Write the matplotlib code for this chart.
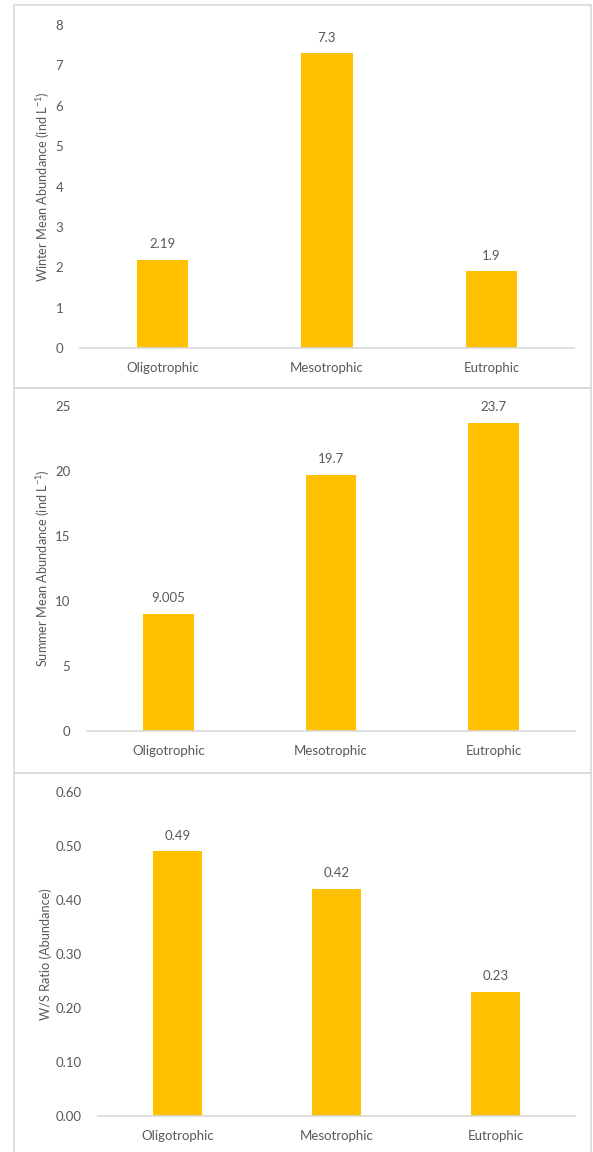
import matplotlib
matplotlib.use('Agg')
import matplotlib.pyplot as plt
from matplotlib.patches import Rectangle

plt.rcParams['font.family'] = ['Lato', 'DejaVu Sans']
plt.rcParams['mathtext.fontset'] = 'custom'
plt.rcParams['mathtext.rm'] = 'Lato'

BAR_GOLD = '#FFC000'
TEXT_GREY = '#595959'
LINE_GREY = '#D9D9D9'

categories = ['Oligotrophic', 'Mesotrophic', 'Eutrophic']
winter_abundance = [2.19, 7.3, 1.9]
summer_abundance = [9.005, 19.7, 23.7]
ws_ratio = [0.49, 0.42, 0.23]

winter_labels = ['2.19', '7.3', '1.9']
summer_labels = ['9.005', '19.7', '23.7']
ratio_labels = ['0.49', '0.42', '0.23']

W, H = 593, 1152
fig = plt.figure(figsize=(W / 100, H / 100), dpi=100)


def px_axes(left, right, bottom, top):
    # pixel box (origin top-left) -> figure fraction
    return fig.add_axes([left / W, 1 - bottom / H, (right - left) / W, (bottom - top) / H])


def panel_frame(top, bottom):
    fig.patches.append(Rectangle((14 / W, 1 - bottom / H), (591 - 14) / W, (bottom - top) / H,
                                 transform=fig.transFigure, fill=False,
                                 edgecolor=LINE_GREY, linewidth=1.2))


def bar_panel(ax, values, labels, ymax, ystep, ylabel, fmt, left):
    x = range(len(categories))
    ax.bar(x, values, width=0.31, color=BAR_GOLD)
    for xi, v, lab in zip(x, values, labels):
        ax.annotate(lab, (xi, v), xytext=(0, 7), textcoords='offset points',
                    ha='center', va='bottom', fontsize=9.5, color=TEXT_GREY)
    ax.set_xlim(-0.5, len(categories) - 0.5)
    ax.set_ylim(0, ymax)
    ticks = [i * ystep for i in range(int(round(ymax / ystep)) + 1)]
    ax.set_yticks(ticks)
    ax.set_yticklabels([fmt.format(t) for t in ticks])
    ax.set_xticks(list(x))
    ax.set_xticklabels(categories)
    ax.tick_params(length=0, colors=TEXT_GREY, labelsize=9.5)
    ax.tick_params(axis='x', pad=10)
    ax.tick_params(axis='y', pad=12)
    for side in ['top', 'right', 'left']:
        ax.spines[side].set_visible(False)
    ax.spines['bottom'].set_color(LINE_GREY)
    ax.spines['bottom'].set_linewidth(1.2)
    ax.set_ylabel(ylabel, color=TEXT_GREY, fontsize=9.2)
    # y label anchored so its centre sits near x = 43 px
    width_px = ax.get_position().width * W
    ax.yaxis.set_label_coords((52 - left) / width_px, 0.5)


panel_frame(5, 388)
panel_frame(388, 773)
panel_frame(773, 1160)

ax1 = px_axes(80, 574, 348, 25)
bar_panel(ax1, winter_abundance, winter_labels, 8, 1,
          r'Winter Mean Abundance (ind L$^{\mathregular{-1}}$)', '{:.0f}', 80)

ax2 = px_axes(87, 575, 731, 406)
bar_panel(ax2, summer_abundance, summer_labels, 25, 5,
          r'Summer Mean Abundance (ind L$^{\mathregular{-1}}$)', '{:.0f}', 87)

ax3 = px_axes(98, 575, 1116, 792)
bar_panel(ax3, ws_ratio, ratio_labels, 0.6, 0.1,
          'W/S Ratio (Abundance)', '{:.2f}', 98)

fig.savefig('out.png', dpi=100, facecolor='white')
